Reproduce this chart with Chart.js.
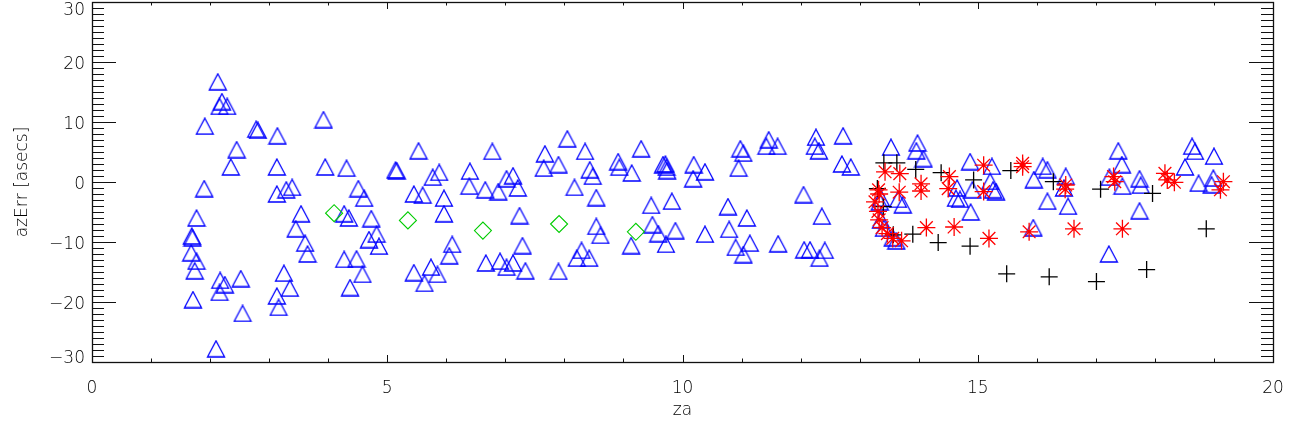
<!DOCTYPE html>
<html>
<head>
<meta charset="utf-8">
<script src="https://cdn.jsdelivr.net/npm/chart.js@4.4.1/dist/chart.umd.min.js"></script>
<style>
  html, body { margin: 0; padding: 0; background: #fff; }
</style>
</head>
<body>
<canvas id="chart" width="1300" height="435"></canvas>
<script>
// axis ticks
const X_TICKS = [0, 5, 10, 15, 20];
const X_TICK_LABELS = ['0', '5', '10', '15', '20'];
const Y_TICKS = [-30, -20, -10, 0, 10, 20, 30];
// end labels are nudged inside the frame like the original (empty line trick)
const Y_TICK_LABELS = [['\u221230', ''], '\u221220', '\u221210', '0', '10', '20', ['', '30']];

// [za, azErr]
const blueTriangles = [
    [2.13, 16.7], [2.20, 13.4], [2.16, 12.6], [2.29, 12.6], [1.91, 9.3], [2.78, 8.8], [2.81, 8.6],
    [3.14, 7.7], [3.92, 10.4], [2.45, 5.4], [2.35, 2.5], [3.13, 2.5], [3.95, 2.5], [1.90, -1.1],
    [3.13, -2.0], [3.29, -1.3], [3.39, -0.9], [3.54, -5.3], [1.77, -6.0], [3.45, -7.8], [1.69, -9.0],
    [1.70, -9.3], [3.61, -10.2], [3.65, -12.0], [1.68, -11.8], [1.77, -13.2], [1.74, -14.8],
    [2.17, -16.4], [2.25, -17.1], [2.16, -18.4], [2.52, -16.1], [3.25, -15.2], [3.35, -17.7],
    [3.13, -19.0], [3.16, -20.9], [1.71, -19.6], [2.55, -21.9], [2.10, -27.8],
    [4.31, 2.3], [5.53, 5.2], [5.14, 2.0], [5.16, 1.9], [6.78, 5.1], [8.05, 7.2], [7.67, 4.7],
    [7.65, 2.3], [7.90, 2.9], [6.40, 1.8], [6.39, -0.7], [6.66, -1.3], [6.88, -1.6], [7.02, 0.55],
    [7.13, 1.05], [7.21, -1.0], [5.88, 1.6], [5.77, 0.8], [5.45, -2.0], [5.60, -2.2], [5.96, -2.7],
    [5.96, -5.3], [7.24, -5.6], [4.51, -1.1], [4.61, -2.7], [4.27, -5.3], [4.35, -6.0], [4.73, -6.1],
    [4.69, -9.6], [4.82, -8.7], [4.86, -10.7], [4.27, -12.9], [4.48, -12.8], [4.58, -15.4],
    [4.37, -17.6], [6.10, -10.4], [6.05, -12.3], [5.45, -15.1], [5.74, -14.2], [5.85, -15.4],
    [5.63, -16.9], [6.67, -13.5], [6.91, -13.2], [7.02, -14.2], [7.13, -13.5], [7.34, -14.8],
    [7.29, -10.6], [7.90, -14.9],
    [8.35, 5.1], [8.43, 2.05], [8.48, 0.95], [8.17, -0.9], [8.54, -2.6], [8.91, 3.4], [8.93, 2.45],
    [9.30, 5.55], [9.14, 1.5], [9.67, 2.9], [9.71, 3.0], [9.73, 2.45], [9.74, 1.9], [10.19, 2.9],
    [10.38, 1.7], [10.18, 0.55], [10.98, 5.55], [11.03, 4.8], [10.95, 2.3], [11.46, 7.05],
    [11.42, 5.95], [11.61, 5.95], [12.05, -2.1], [8.54, -7.4], [8.61, -8.9], [8.29, -11.4],
    [8.21, -12.7], [8.42, -12.7], [9.47, -3.9], [9.82, -3.2], [9.49, -7.1], [9.59, -8.6],
    [9.88, -8.1], [9.72, -10.4], [9.13, -10.6], [10.38, -8.7], [10.77, -4.1], [11.09, -6.0],
    [10.79, -7.9], [11.14, -10.2], [10.90, -10.9], [11.03, -12.1], [11.62, -10.3], [12.06, -11.3],
    [12.26, 7.45], [12.24, 5.95], [12.31, 5.2], [12.72, 7.7], [12.70, 3.0], [12.85, 2.5],
    [12.36, -5.7], [12.16, -11.3], [12.41, -11.4], [12.32, -12.7],
    [13.53, 5.8], [13.98, 6.5], [13.96, 5.2], [14.08, 3.9], [14.87, 3.4], [15.24, 2.6], [15.21, 0.1],
    [15.26, -1.3], [15.31, -1.6], [14.91, -1.3], [14.65, -1.0], [14.63, -2.7], [14.70, -2.9],
    [14.88, -5.0], [16.10, 2.6], [16.18, 2.05], [15.95, 0.4], [16.18, -3.2], [15.94, -7.6],
    [13.36, -2.7], [13.34, -3.3], [13.65, -2.9], [13.73, -3.8], [13.36, -6.3], [13.41, -7.7],
    [13.56, -9.3], [13.62, -9.8],
    [16.49, 0.95], [16.46, -1.0], [16.53, -4.05], [17.38, 5.2], [17.44, 2.9], [17.23, 0.8],
    [17.45, -0.7], [17.74, 0.55], [17.76, -0.55], [17.74, -4.8], [17.22, -12.0], [18.63, 5.95],
    [18.68, 5.1], [19.00, 4.3], [18.51, 2.5], [18.74, -0.2], [18.99, 0.65], [18.96, -0.45],
];

const redAsterisks = [
    [13.43, 1.7], [13.68, 1.4], [14.04, -0.3], [14.04, -1.5], [14.52, 0.9], [14.50, -1.1],
    [15.10, 2.8], [15.10, -1.6], [15.76, 3.1], [15.76, 2.55], [13.32, -1.3], [13.33, -2.0],
    [13.26, -3.3], [13.67, -1.7], [13.31, -4.9], [13.33, -6.3], [13.38, -7.6], [13.47, -8.6],
    [13.56, -9.4], [13.71, -9.8], [14.13, -7.6], [14.60, -7.5], [15.19, -9.4], [15.87, -8.3],
    [16.49, -0.5], [16.48, -1.2], [17.30, 0.9], [17.32, 0.05], [18.17, 1.45], [18.21, 0.35],
    [18.33, -0.05], [19.16, 0.05], [19.11, -1.3], [16.63, -7.8], [17.45, -7.8],
];

const blackCrosses = [
    [13.41, 3.2], [13.63, 3.2], [13.95, 2.1], [14.38, 1.55], [14.93, 0.35], [15.56, 1.9],
    [16.28, 0.05], [13.30, -1.1], [13.40, -4.1], [13.57, -8.8], [13.90, -8.7], [14.33, -10.1],
    [14.87, -10.7], [15.49, -15.3], [16.21, -15.8], [17.08, -1.2], [17.96, -1.9], [18.87, -7.8],
    [17.86, -14.6], [17.01, -16.6],
];

const greenDiamonds = [
    [4.10, -5.2], [5.35, -6.4], [6.62, -8.1], [7.91, -7.0], [9.21, -8.3],
];

const FONT = { family: "'DejaVu Sans', sans-serif", size: 17, weight: 200 };
const TEXT_COLOR = '#000';

function toPoints(pairs) {
    return pairs.map(([x, y]) => ({ x, y }));
}

// IDL style triangle (wider than tall, centred on its box)
function triangleMarker(color) {
    const c = document.createElement('canvas');
    c.width = 20;
    c.height = 18;
    const g = c.getContext('2d');
    g.strokeStyle = color;
    g.lineWidth = 1.3;
    g.beginPath();
    g.moveTo(10, 1);
    g.lineTo(18.5, 17);
    g.lineTo(1.5, 17);
    g.closePath();
    g.stroke();
    return c;
}

// frame with inward major/minor ticks on all four sides
const idlFrame = {
    id: 'idlFrame',
    afterDatasetsDraw(chart) {
        const { ctx, chartArea: a, scales: { x, y } } = chart;
        ctx.save();
        ctx.strokeStyle = '#111';
        ctx.lineWidth = 1;
        ctx.beginPath();
        for (let v = X_TICKS[0]; v <= X_TICKS[X_TICKS.length - 1]; v++) {
            const px = Math.round(x.getPixelForValue(v)) + 0.5;
            const len = X_TICKS.includes(v) ? 7 : 3.5;
            ctx.moveTo(px, a.bottom);
            ctx.lineTo(px, a.bottom - len);
            ctx.moveTo(px, a.top);
            ctx.lineTo(px, a.top + len);
        }
        for (let v = Y_TICKS[0]; v <= Y_TICKS[Y_TICKS.length - 1]; v++) {
            const py = Math.round(y.getPixelForValue(v)) + 0.5;
            const len = Y_TICKS.includes(v) ? 24 : 12;
            ctx.moveTo(a.left, py);
            ctx.lineTo(a.left + len, py);
            ctx.moveTo(a.right, py);
            ctx.lineTo(a.right - len, py);
        }
        ctx.stroke();
        ctx.lineWidth = 1.3;
        ctx.strokeRect(Math.round(a.left) + 0.5, Math.round(a.top) + 0.5,
            Math.round(a.right - a.left), Math.round(a.bottom - a.top));
        ctx.restore();
    },
};

const datasets = [
    {
        label: 'asterisk',
        data: toPoints(redAsterisks),
        pointStyle: 'star',
        pointRadius: 9,
        pointBorderColor: '#ff0000',
        pointBackgroundColor: 'rgba(0,0,0,0)',
        pointBorderWidth: 1.3,
    },
    {
        label: 'cross',
        data: toPoints(blackCrosses),
        pointStyle: 'cross',
        pointRadius: 8.5,
        pointBorderColor: '#000000',
        pointBackgroundColor: 'rgba(0,0,0,0)',
        pointBorderWidth: 1.3,
    },
    {
        label: 'diamond',
        data: toPoints(greenDiamonds),
        pointStyle: 'rectRot',
        pointRadius: 8.5,
        pointBorderColor: '#00cc00',
        pointBackgroundColor: 'rgba(0,0,0,0)',
        pointBorderWidth: 1.1,
    },
    {
        label: 'triangle',
        data: toPoints(blueTriangles),
        pointStyle: triangleMarker('#0000ff'),
        pointRadius: 9,
    },
];

new Chart(document.getElementById('chart').getContext('2d'), {
    type: 'scatter',
    data: { datasets },
    options: {
        responsive: false,
        animation: false,
        layout: {
            autoPadding: false,
            padding: { top: 2, right: 27, left: 0, bottom: 0 },
        },
        plugins: { legend: { display: false }, tooltip: { enabled: false } },
        scales: {
            x: {
                type: 'linear',
                min: X_TICKS[0],
                max: X_TICKS[X_TICKS.length - 1],
                afterFit: (s) => {
                    s.height = 73;
                    s.paddingLeft = 0;
                    s.paddingRight = 0;
                },
                afterBuildTicks: (s) => { s.ticks = X_TICKS.map((v) => ({ value: v })); },
                grid: { display: false, drawTicks: false },
                border: { display: false },
                ticks: {
                    padding: 16,
                    color: TEXT_COLOR,
                    font: FONT,
                    maxRotation: 0,
                    callback: (v) => X_TICK_LABELS[X_TICKS.indexOf(v)],
                },
                title: {
                    display: true,
                    text: 'za',
                    color: TEXT_COLOR,
                    font: FONT,
                    padding: { top: 0, bottom: 14 },
                },
            },
            y: {
                type: 'linear',
                min: Y_TICKS[0],
                max: Y_TICKS[Y_TICKS.length - 1],
                afterFit: (s) => {
                    s.width = 92;
                    s.paddingTop = 0;
                    s.paddingBottom = 0;
                },
                afterBuildTicks: (s) => { s.ticks = Y_TICKS.map((v) => ({ value: v })); },
                grid: { display: false, drawTicks: false },
                border: { display: false },
                ticks: {
                    padding: 7,
                    labelOffset: 3,
                    color: TEXT_COLOR,
                    font: { ...FONT, lineHeight: 0.7 },
                    callback: (v) => Y_TICK_LABELS[Y_TICKS.indexOf(v)],
                },
                title: {
                    display: true,
                    text: 'azErr [asecs]',
                    color: TEXT_COLOR,
                    font: FONT,
                    padding: { top: 12, bottom: 0 },
                },
            },
        },
    },
    plugins: [idlFrame],
});
</script>
</body>
</html>
